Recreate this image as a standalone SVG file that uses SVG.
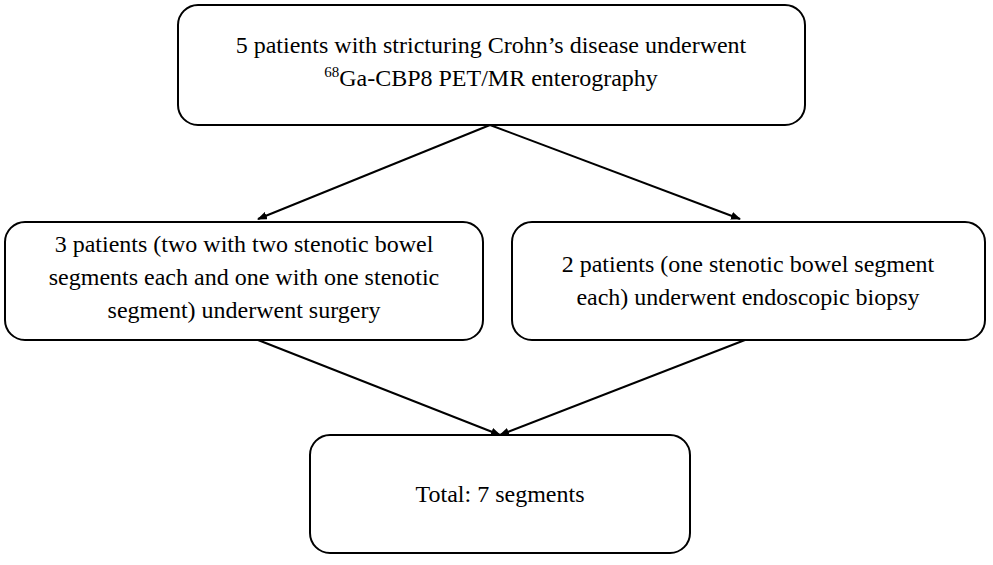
<svg xmlns="http://www.w3.org/2000/svg" width="993" height="565" viewBox="0 0 993 565">
<style>
.b{fill:#fff;stroke:#000;stroke-width:2}
.c{stroke:#000;stroke-width:2;fill:none;marker-end:url(#a)}
</style>
<defs><marker id="a" markerWidth="10" markerHeight="8" refX="9" refY="4" orient="auto" markerUnits="userSpaceOnUse"><path d="M0,0L10,4L0,8z" fill="#000"/></marker></defs>
<rect width="993" height="565" fill="#fff"/>
<g id="connectors">
<path class="c" d="M490,125L258,219"/>
<path class="c" d="M490,125L740,219"/>
<path class="c" d="M258,340L500,435"/>
<path class="c" d="M745,340L500,435"/>
</g>
<g font-family="'Liberation Serif', 'DejaVu Serif', serif" font-size="24" text-anchor="middle" fill="#000">
<g id="top"><rect class="b" x="178" y="5" width="627" height="120" rx="20"/>
<text x="491" y="53">5 patients with stricturing Crohn’s disease underwent</text>
<text x="491" y="86"><tspan font-size="15" dy="-9">68</tspan><tspan dy="9">Ga-CBP8 PET/MR enterography</tspan></text></g>
<g id="left"><rect class="b" x="5" y="222" width="478" height="118" rx="20"/>
<text x="244" y="252">3 patients (two with two stenotic bowel</text>
<text x="244" y="285">segments each and one with one stenotic</text>
<text x="244" y="318">segment) underwent surgery</text></g>
<g id="right"><rect class="b" x="512" y="222" width="473" height="118" rx="20"/>
<text x="748" y="272">2 patients (one stenotic bowel segment</text>
<text x="748" y="305">each) underwent endoscopic biopsy</text></g>
<g id="bottom"><rect class="b" x="310" y="435" width="380" height="118" rx="20"/>
<text x="500" y="502">Total: 7 segments</text></g>
</g>
</svg>
